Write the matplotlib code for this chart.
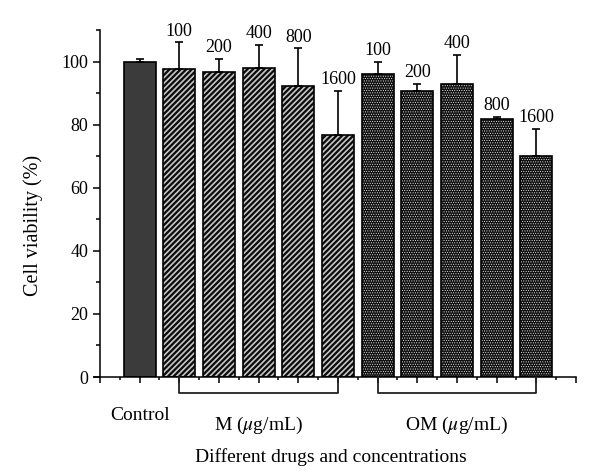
import matplotlib
matplotlib.use("Agg")
import matplotlib.pyplot as plt
import matplotlib.transforms as mtransforms
import numpy as np

plt.rcParams['font.family'] = ['Liberation Serif', 'DejaVu Serif']
plt.rcParams['mathtext.fontset'] = 'stix'

# data
groups = ["Control", "M", "M", "M", "M", "M", "OM", "OM", "OM", "OM", "OM"]
conc_labels = ["", "100", "200", "400", "800", "1600", "100", "200", "400", "800", "1600"]
viability = [100.0, 97.7, 96.6, 98.1, 92.2, 76.7, 96.0, 90.7, 92.9, 81.7, 70.2]
errors = [0.8, 8.4, 4.3, 7.3, 12.0, 14.1, 3.9, 2.2, 9.1, 0.8, 8.5]
group_labels = ["Control", "M ($\\mu$g/mL)", "OM ($\\mu$g/mL)"]

fig = plt.figure(figsize=(6.0, 4.74), dpi=100)
ax = fig.add_axes([94/600, 1-377/474, (576-94)/600, (377-30)/474])

x = np.arange(1, len(viability) + 1)
width = 0.81

for xi, v, g in zip(x, viability, groups):
    if g == "Control":
        ax.bar(xi, v, width, color='#3b3b3b', edgecolor='black', linewidth=1.2, zorder=2)
    elif g == "M":
        with plt.rc_context({'hatch.linewidth': 1.6}):
            b = ax.bar(xi, v, width, color='#c4c4c4', edgecolor='#0a0a0a', hatch='//////',
                       linewidth=0, zorder=2)
            for p in b:
                if hasattr(p, 'set_hatch_linewidth'):
                    p.set_hatch_linewidth(1.6)
        ax.bar(xi, v, width, fill=False, edgecolor='black', linewidth=1.2, zorder=3)
    else:
        with plt.rc_context({'hatch.linewidth': 0.4}):
            b = ax.bar(xi, v, width, color='#111111', edgecolor='#f4f4f4', hatch='.......',
                       linewidth=0, zorder=2)
            for p in b:
                if hasattr(p, 'set_hatch_linewidth'):
                    p.set_hatch_linewidth(0.4)
        ax.bar(xi, v, width, fill=False, edgecolor='black', linewidth=1.2, zorder=3)

err_arr = np.array(errors)
ax.errorbar(x, viability, yerr=[np.zeros_like(err_arr), err_arr], fmt='none',
            ecolor='black', elinewidth=1.2, capsize=2.6, capthick=1.2, zorder=4)

for xi, v, e, lab in zip(x, viability, errors, conc_labels):
    if lab:
        ax.annotate(lab, (xi, v + e), xytext=(0, 2), textcoords='offset points',
                    ha='center', va='bottom', fontsize=13)

ax.set_xlim(-0.15, 12)
ax.set_ylim(0, 110)
ax.spines['left'].set_position(('data', 0))
ax.spines['top'].set_visible(False)
ax.spines['right'].set_visible(False)
for s in ['left', 'bottom']:
    ax.spines[s].set_linewidth(1.1)

ax.set_yticks(np.arange(0, 101, 20))
ax.set_yticks(np.arange(10, 111, 20), minor=True)
ax.set_xticks(np.arange(0, 13, 1))
ax.set_xticks(np.arange(0.5, 12, 1), minor=True)
ax.set_xticklabels([])
ax.tick_params(axis='both', which='major', direction='out', width=1.1, labelsize=13)
ax.tick_params(axis='y', which='major', length=5)
ax.tick_params(axis='y', which='minor', length=3, width=1.1)
ax.tick_params(axis='x', which='major', length=4.5)
ax.tick_params(axis='x', which='minor', length=2.2, width=1.1)

trans = mtransforms.blended_transform_factory(ax.transData, ax.transAxes)
bh = -16/347
for x0, x1 in [(2, 6), (7, 11)]:
    ax.plot([x0, x0, x1, x1], [0, bh, bh, 0], color='#222222', lw=1.3,
            transform=trans, clip_on=False, zorder=5)

ax.text(1, -39/347, group_labels[0], transform=trans, ha='center', va='center', fontsize=14)
ax.text(4, -48/347, group_labels[1], transform=trans, ha='center', va='center', fontsize=14)
ax.text(9, -48/347, group_labels[2], transform=trans, ha='center', va='center', fontsize=14)
ax.text((331-94)/482, -80/347, "Different drugs and concentrations",
        transform=ax.transAxes, ha='center', va='center', fontsize=14)

ax.set_ylabel("Cell viability (%)", fontsize=14.5)
ax.yaxis.set_label_coords((43-94)/482, (377-225)/347)

fig.savefig("out.png", dpi=100)
